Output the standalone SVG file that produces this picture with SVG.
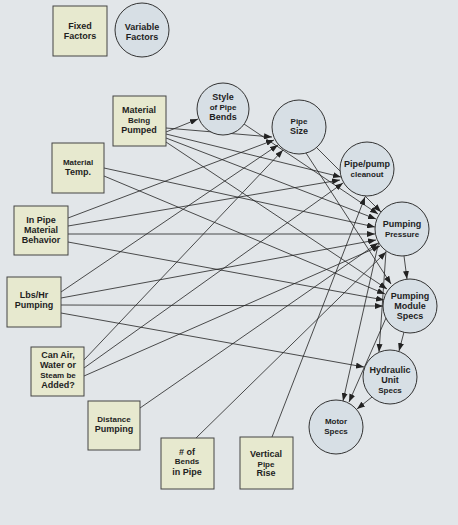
<svg xmlns="http://www.w3.org/2000/svg" width="458" height="525" viewBox="0 0 458 525">
<defs>
<marker id="ah" markerWidth="8" markerHeight="6" refX="8" refY="3" orient="auto" markerUnits="userSpaceOnUse">
<path d="M0,0 L8,3 L0,6 z" fill="#222"/>
</marker>
<style>
.box{fill:#e7e9cf;stroke:#444;stroke-width:1}
.cir{fill:#d7dfe5;stroke:#333;stroke-width:1}
.t{font-family:"Liberation Sans",Arial,sans-serif;font-weight:bold;font-size:9px;fill:#1e1e1e;text-anchor:middle}
.s{font-size:8px}
.e line{stroke:#222;stroke-width:0.8;marker-end:url(#ah)}
</style>
</defs>
<rect width="458" height="525" fill="#e2e6e9"/>
<g class="e" id="connectors">
<line x1="166" y1="132" x2="198" y2="119"/>
<line x1="166" y1="128" x2="272" y2="137"/>
<line x1="166" y1="134" x2="341" y2="177"/>
<line x1="166" y1="138" x2="376" y2="219"/>
<line x1="166" y1="142" x2="387" y2="289"/>
<line x1="244" y1="124" x2="378" y2="214"/>
<line x1="104" y1="168" x2="375" y2="227"/>
<line x1="104" y1="176" x2="385" y2="294"/>
<line x1="68" y1="218" x2="274" y2="140"/>
<line x1="68" y1="226" x2="340" y2="180"/>
<line x1="68" y1="234" x2="375" y2="234"/>
<line x1="68" y1="242" x2="384" y2="300"/>
<line x1="61" y1="292" x2="278" y2="145"/>
<line x1="61" y1="298" x2="376" y2="240"/>
<line x1="61" y1="305" x2="383" y2="306"/>
<line x1="61" y1="313" x2="364" y2="367"/>
<line x1="84" y1="360" x2="283" y2="150"/>
<line x1="84" y1="368" x2="343" y2="183"/>
<line x1="84" y1="376" x2="380" y2="246"/>
<line x1="140" y1="408" x2="378" y2="243"/>
<line x1="196" y1="438" x2="386" y2="252"/>
<line x1="272" y1="437" x2="365" y2="197"/>
<line x1="316" y1="147" x2="381" y2="212"/>
<line x1="306" y1="153" x2="391" y2="284"/>
<line x1="404" y1="256" x2="407" y2="279"/>
<line x1="386" y1="251" x2="379" y2="352"/>
<line x1="379" y1="241" x2="343" y2="401"/>
<line x1="386" y1="318" x2="349" y2="402"/>
<line x1="404" y1="332" x2="399" y2="351"/>
<line x1="372" y1="397" x2="357" y2="409"/>
</g>
<g id="fixed-factors"><rect class="box" x="53" y="6" width="54" height="50"/><text class="t" x="80" y="29">Fixed</text><text class="t" x="80" y="39">Factors</text></g>
<g id="variable-factors"><circle class="cir" cx="142" cy="30" r="27"/><text class="t" x="142" y="30">Variable</text><text class="t" x="142" y="40">Factors</text></g>
<g id="material-being-pumped"><rect class="box" x="113" y="96" width="53" height="50"/><text class="t" x="139" y="113">Material</text><text class="t s" x="139" y="123">Being</text><text class="t" x="139" y="133">Pumped</text></g>
<g id="style-of-pipe-bends"><circle class="cir" cx="223" cy="109" r="26"/><text class="t" x="223" y="100">Style</text><text class="t s" x="223" y="110">of Pipe</text><text class="t" x="223" y="120">Bends</text></g>
<g id="pipe-size"><circle class="cir" cx="299" cy="127" r="27"/><text class="t s" x="299" y="124">Pipe</text><text class="t" x="299" y="134">Size</text></g>
<g id="pipe-pump-cleanout"><circle class="cir" cx="367" cy="169" r="27"/><text class="t" x="367" y="167">Pipe/pump</text><text class="t s" x="367" y="177">cleanout</text></g>
<g id="material-temp"><rect class="box" x="52" y="143" width="52" height="50"/><text class="t s" x="78" y="165">Material</text><text class="t" x="78" y="175">Temp.</text></g>
<g id="in-pipe-material-behavior"><rect class="box" x="14" y="206" width="54" height="49"/><text class="t" x="41" y="223">In Pipe</text><text class="t" x="41" y="233">Material</text><text class="t" x="41" y="243">Behavior</text></g>
<g id="pumping-pressure"><circle class="cir" cx="402" cy="229" r="27"/><text class="t" x="402" y="227">Pumping</text><text class="t s" x="402" y="237">Pressure</text></g>
<g id="lbs-hr-pumping"><rect class="box" x="7" y="277" width="54" height="50"/><text class="t" x="34" y="298">Lbs/Hr</text><text class="t" x="34" y="308">Pumping</text></g>
<g id="pumping-module-specs"><circle class="cir" cx="410" cy="306" r="27"/><text class="t" x="410" y="299">Pumping</text><text class="t" x="410" y="309">Module</text><text class="t" x="410" y="319">Specs</text></g>
<g id="can-air"><rect class="box" x="31" y="347" width="53" height="49"/><text class="t" x="58" y="358">Can Air,</text><text class="t" x="58" y="368">Water or</text><text class="t s" x="58" y="378">Steam be</text><text class="t" x="58" y="388">Added?</text></g>
<g id="hydraulic-unit-specs"><circle class="cir" cx="390" cy="377" r="27"/><text class="t" x="390" y="373">Hydraulic</text><text class="t" x="390" y="383">Unit</text><text class="t s" x="390" y="393">Specs</text></g>
<g id="distance-pumping"><rect class="box" x="88" y="401" width="52" height="49"/><text class="t s" x="114" y="422">Distance</text><text class="t" x="114" y="432">Pumping</text></g>
<g id="motor-specs"><circle class="cir" cx="336" cy="427" r="27"/><text class="t s" x="336" y="424">Motor</text><text class="t s" x="336" y="434">Specs</text></g>
<g id="bends-in-pipe"><rect class="box" x="161" y="438" width="53" height="51"/><text class="t" x="187" y="455"># of</text><text class="t s" x="187" y="464">Bends</text><text class="t" x="187" y="475">in Pipe</text></g>
<g id="vertical-pipe-rise"><rect class="box" x="240" y="437" width="53" height="52"/><text class="t" x="266" y="457">Vertical</text><text class="t s" x="266" y="467">Pipe</text><text class="t" x="266" y="476">Rise</text></g>
</svg>
